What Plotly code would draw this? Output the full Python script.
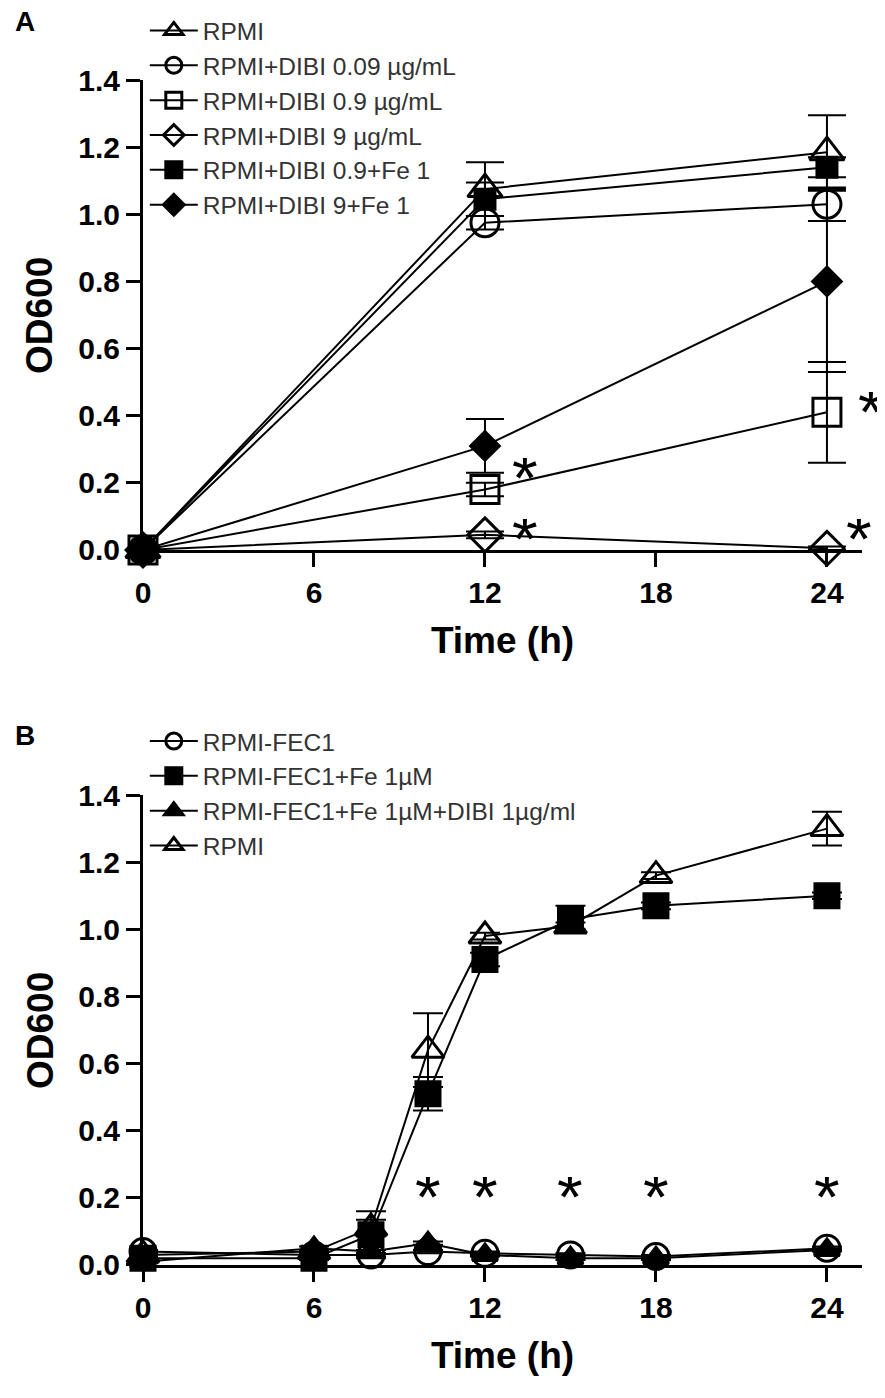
import plotly.graph_objects as go

# ---- panel A data ----
time_a = [0, 12, 24]
labels_a = ["RPMI", "RPMI+DIBI 0.09 µg/mL", "RPMI+DIBI 0.9 µg/mL",
            "RPMI+DIBI 9 µg/mL", "RPMI+DIBI 0.9+Fe 1", "RPMI+DIBI 9+Fe 1"]
rpmi_a = [0.0, 1.075, 1.185]
rpmi_a_err = [0.0, 0.08, 0.11]
dibi009_a = [0.0, 0.975, 1.03]
dibi009_a_err = [0.0, 0.02, 0.05]
dibi09_a = [0.0, 0.18, 0.41]
dibi09_a_err = [0.0, 0.02, 0.15]
dibi9_a = [0.0, 0.045, 0.005]
dibi9_a_err = [0.0, 0.01, 0.005]
dibi09fe_a = [0.0, 1.045, 1.14]
dibi09fe_a_err = [0.0, 0.05, 0.03]
dibi9fe_a = [0.0, 0.31, 0.80]
dibi9fe_a_err = [0.0, 0.08, 0.27]
star_a_x = [12, 12, 24, 24]
star_a_y = [0.247, 0.066, 0.444, 0.066]

# ---- panel B data ----
time_b = [0, 6, 8, 10, 12, 15, 18, 24]
labels_b = ["RPMI-FEC1", "RPMI-FEC1+Fe 1µM", "RPMI-FEC1+Fe 1µM+DIBI 1µg/ml", "RPMI"]
fec1_b = [0.04, 0.03, 0.03, 0.04, 0.035, 0.03, 0.025, 0.05]
fec1_b_err = [0.005, 0.005, 0.005, 0.005, 0.005, 0.005, 0.005, 0.005]
fec1fe_b = [0.02, 0.02, 0.09, 0.51, 0.91, 1.03, 1.07, 1.10]
fec1fe_b_err = [0.005, 0.005, 0.07, 0.05, 0.02, 0.04, 0.01, 0.01]
fec1fedibi_b = [0.01, 0.05, 0.04, 0.065, 0.03, 0.02, 0.02, 0.045]
fec1fedibi_b_err = [0.005, 0.005, 0.005, 0.005, 0.005, 0.005, 0.005, 0.005]
rpmi_b = [0.03, 0.04, 0.11, 0.64, 0.98, 1.01, 1.16, 1.30]
rpmi_b_err = [0.005, 0.005, 0.025, 0.11, 0.01, 0.01, 0.01, 0.05]
star_b_x = [10, 12, 15, 18, 24]
star_b_y = [0.235, 0.235, 0.235, 0.235, 0.235]

fig = go.Figure()


def add_series(x, y, err, name, symbol, size, xa, ya, legend, cap):
    fig.add_trace(go.Scatter(
        x=x, y=y, name=name, mode="lines+markers",
        xaxis=xa, yaxis=ya, legend=legend,
        line=dict(color="black", width=2),
        marker=dict(symbol=symbol, size=size, color="black",
                    line=dict(color="black", width=3)),
        error_y=dict(type="data", array=err, visible=True, color="black",
                     thickness=2, width=cap),
        cliponaxis=False,
    ))


series_a = [
    (rpmi_a, rpmi_a_err, "triangle-up-open", 30),
    (dibi009_a, dibi009_a_err, "circle-open", 28),
    (dibi09_a, dibi09_a_err, "square-open", 28),
    (dibi9_a, dibi9_a_err, "diamond-open", 26),
    (dibi09fe_a, dibi09fe_a_err, "square", 20),
    (dibi9fe_a, dibi9fe_a_err, "diamond", 22),
]
for (y, e, sym, sz), name in zip(series_a, labels_a):
    add_series(time_a, y, e, name, sym, sz, "x", "y", "legend", 19)

series_b = [
    (fec1_b, fec1_b_err, "circle-open", 26),
    (fec1fe_b, fec1fe_b_err, "square", 24),
    (fec1fedibi_b, fec1fedibi_b_err, "triangle-up", 22),
    (rpmi_b, rpmi_b_err, "triangle-up-open", 28),
]
for (y, e, sym, sz), name in zip(series_b, labels_b):
    add_series(time_b, y, e, name, sym, sz, "x2", "y2", "legend2", 15)

tick_font = dict(family="Liberation Sans", size=30, color="black", weight="bold")
title_font = dict(family="Liberation Sans", size=37, color="black", weight="bold")

axis_common = dict(showline=True, linewidth=3, linecolor="black", ticks="outside",
                   ticklen=14, tickwidth=3, tickcolor="black", showgrid=False,
                   zeroline=False, tickfont=tick_font)

x_common = dict(range=[0, 25.23], tickvals=[0, 6, 12, 18, 24], **axis_common)
y_common = dict(range=[0, 1.4], tickvals=[0, 0.2, 0.4, 0.6, 0.8, 1.0, 1.2, 1.4],
                tickformat=".1f", **axis_common)

star_font = dict(family="Liberation Sans", size=66, color="black")
annotations = []
for x, y, sh in zip(star_a_x, star_a_y, [40, 40, 44, 32]):
    annotations.append(dict(x=x, y=y, xref="x", yref="y", text="*", showarrow=False,
                            xshift=sh, yshift=-11, height=40, font=star_font))
for x, y in zip(star_b_x, star_b_y):
    annotations.append(dict(x=x, y=y, xref="x2", yref="y2", text="*", showarrow=False,
                            yshift=-11, height=40, font=star_font))
for lab, py in [("A", 1.049), ("B", 0.447)]:
    annotations.append(dict(x=-0.164, y=py, xref="paper", yref="paper", text=lab,
                            showarrow=False, xanchor="center", yanchor="middle",
                            font=dict(family="Liberation Sans", size=28, color="black",
                                      weight="bold")))
# y axis titles (rotated)
for py in [0.8017, 0.1983]:
    annotations.append(dict(x=-0.1433, y=py, xref="paper", yref="paper", text="OD600",
                            textangle=-90, showarrow=False, xanchor="center",
                            yanchor="middle", font=title_font))

legend_font = dict(family="Liberation Sans", size=24.5, color="#333333")

# the page adds an 8px body margin, so the figure is 8px smaller than the window
fig.update_layout(
    width=877, height=1390,
    margin=dict(l=135, r=23, t=72, b=133, autoexpand=False),
    paper_bgcolor="white", plot_bgcolor="white",
    xaxis=dict(domain=[0, 1], anchor="y",
               title=dict(text="Time (h)", font=title_font, standoff=20), **x_common),
    yaxis=dict(domain=[0.6034, 1], anchor="x", **y_common),
    xaxis2=dict(domain=[0, 1], anchor="y2",
                title=dict(text="Time (h)", font=title_font, standoff=20), **x_common),
    yaxis2=dict(domain=[0, 0.3966], anchor="x2", **y_common),
    legend=dict(x=0.156, y=1.0041, xref="container", yref="container",
                xanchor="left", yanchor="top", font=legend_font,
                bgcolor="rgba(0,0,0,0)", itemwidth=48, tracegroupgap=0),
    legend2=dict(x=0.156, y=0.4888, xref="container", yref="container",
                 xanchor="left", yanchor="top", font=legend_font,
                 bgcolor="rgba(0,0,0,0)", itemwidth=48, tracegroupgap=0),
    annotations=annotations,
    showlegend=True,
)

fig.write_html("out.html")
